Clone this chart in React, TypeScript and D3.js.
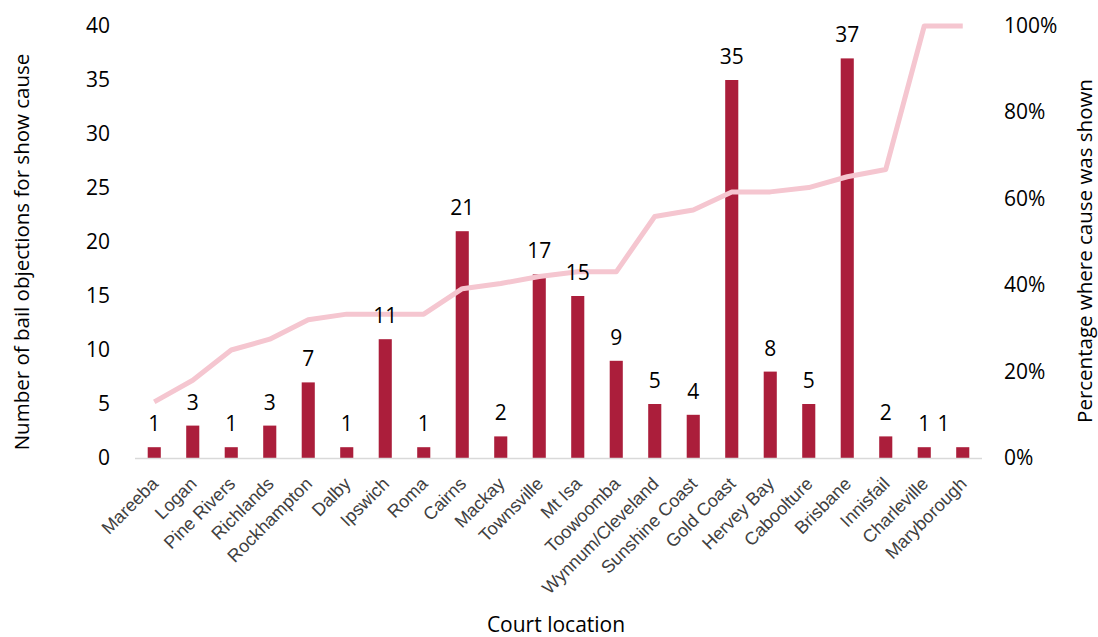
import React from "react";
import * as d3 from "d3";

const courts = [
  "Mareeba", "Logan", "Pine Rivers", "Richlands", "Rockhampton", "Dalby", "Ipswich",
  "Roma", "Cairns", "Mackay", "Townsville", "Mt Isa", "Toowoomba", "Wynnum/Cleveland",
  "Sunshine Coast", "Gold Coast", "Hervey Bay", "Caboolture", "Brisbane", "Innisfail",
  "Charleville", "Maryborough",
];

const objections = [1, 3, 1, 3, 7, 1, 11, 1, 21, 2, 17, 15, 9, 5, 4, 35, 8, 5, 37, 2, 1, 1];
const pctShown = [0.13, 0.18, 0.25, 0.275, 0.32, 0.333, 0.333, 0.333, 0.392, 0.404, 0.42, 0.431, 0.431, 0.559, 0.574, 0.616, 0.616, 0.626, 0.651, 0.668, 1.0, 1.0];

const leftTicks = [0, 5, 10, 15, 20, 25, 30, 35, 40];
const rightTicks = [0, 0.2, 0.4, 0.6, 0.8, 1.0];

export default function App() {
  const W = 1098, H = 637;
  const plotL = 135, plotR = 982, plotT = 26, plotB = 458;
  const x = d3.scaleBand<string>().domain(courts).range([plotL, plotR]).paddingInner(0.66).paddingOuter(0.33);
  const yL = d3.scaleLinear().domain([0, 40]).range([plotB, plotT]);
  const yR = d3.scaleLinear().domain([0, 1]).range([plotB, plotT]);
  const cx = (c: string) => (x(c) as number) + x.bandwidth() / 2;
  const line = d3.line<number>().x((_, i) => cx(courts[i])).y((d) => yR(d));
  const font = "'Open Sans', 'Noto Sans', sans-serif";
  const labelDx = (i: number) => (i === courts.length - 1 ? -x.step() / 2 : 0);
  return (
    <svg width={W} height={H} style={{ position: "absolute", left: 0, top: 0 }}>
      <rect width={W} height={H} fill="#fff" />
      {courts.map((c, i) => (
        <rect key={c} x={x(c)} y={yL(objections[i])} width={x.bandwidth()} height={plotB - yL(objections[i])} fill="#AB1E3B" />
      ))}
      <line x1={plotL} x2={plotR} y1={plotB + 0.5} y2={plotB + 0.5} stroke="#D9D9D9" strokeWidth={1.5} />
      <path d={line(pctShown) || ""} fill="none" stroke="#F5C6D0" strokeWidth={5} strokeLinejoin="round" />
      {courts.map((c, i) => (
        <text key={"l" + c} x={cx(c) + labelDx(i)} y={yL(objections[i]) - 16} textAnchor="middle" fontFamily={font} fontSize={21} fill="#000">
          {objections[i]}
        </text>
      ))}
      {leftTicks.map((t) => (
        <text key={"lt" + t} x={110} y={yL(t) + 7} textAnchor="end" fontFamily={font} fontSize={21} fill="#000">{t}</text>
      ))}
      {rightTicks.map((t) => (
        <text key={"rt" + t} x={1004} y={yR(t) + 7} textAnchor="start" fontFamily={font} fontSize={21} fill="#000">{d3.format(".0%")(t)}</text>
      ))}
      {courts.map((c) => (
        <text key={"x" + c} transform={`translate(${cx(c) + 5},${plotB + 27}) rotate(-45)`} textAnchor="end" fontFamily="'Liberation Sans', Arial, sans-serif" fontSize={18} fill="#404040">
          {c}
        </text>
      ))}
      <text transform={`translate(29,252) rotate(-90)`} textAnchor="middle" fontFamily={font} fontSize={20.5} fill="#000">
        Number of bail objections for show cause
      </text>
      <text transform={`translate(1092,251) rotate(-90)`} textAnchor="middle" fontFamily={font} fontSize={20.5} fill="#000">
        Percentage where cause was shown
      </text>
      <text x={556} y={632} textAnchor="middle" fontFamily={font} fontSize={21} fill="#000">Court location</text>
    </svg>
  );
}
